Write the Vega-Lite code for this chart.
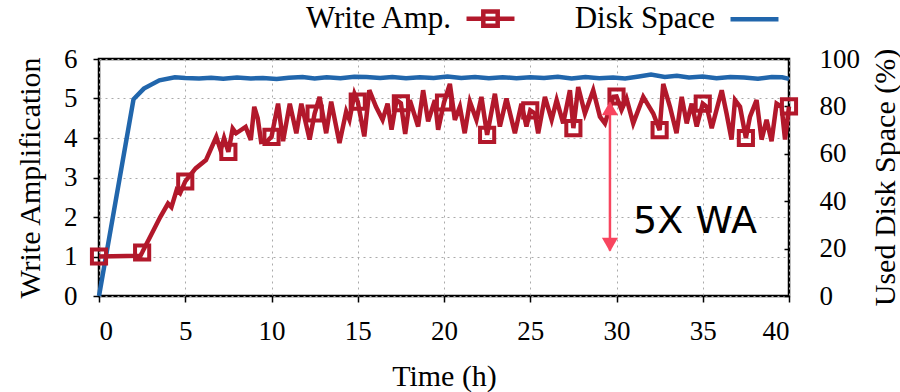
{
  "$schema": "https://vega.github.io/schema/vega-lite/v6.json",
  "width": 690,
  "height": 237,
  "autosize": {"type": "none"},
  "padding": {"left": 99, "top": 59, "right": 111, "bottom": 96},
  "background": "white",
  "config": {
    "view": {"stroke": "black", "strokeWidth": 2.5},
    "font": "Liberation Serif",
    "axis": {
      "labelFont": "Liberation Serif",
      "titleFont": "Liberation Serif",
      "labelFontSize": 27,
      "titleFontSize": 30,
      "titleFontWeight": "normal",
      "labelColor": "black",
      "titleColor": "black",
      "labelOverlap": false,
      "domain": false,
      "tickColor": "black",
      "tickWidth": 1.5,
      "tickSize": 6,
      "gridColor": "#aaaaaa",
      "gridDash": [2, 4],
      "gridWidth": 1
    }
  },
  "datasets": {
    "wa": [
      {"time": 0, "wa": 1.0}, {"time": 2.4, "wa": 1.02}, {"time": 2.5, "wa": 1.1}, {"time": 3.55, "wa": 2.0}, {"time": 4.0, "wa": 2.34},
      {"time": 4.2, "wa": 2.25}, {"time": 4.5, "wa": 2.68}, {"time": 4.7, "wa": 2.6}, {"time": 5.0, "wa": 2.9},
      {"time": 5.6, "wa": 3.23}, {"time": 6.2, "wa": 3.44}, {"time": 6.8, "wa": 4.03}, {"time": 7.05, "wa": 3.69},
      {"time": 7.25, "wa": 4.0}, {"time": 7.5, "wa": 3.65}, {"time": 7.75, "wa": 4.24}, {"time": 7.95, "wa": 4.12},
      {"time": 8.5, "wa": 4.28}, {"time": 8.8, "wa": 3.95}, {"time": 9.0, "wa": 4.79}, {"time": 9.2, "wa": 4.5},
      {"time": 9.4, "wa": 3.9}, {"time": 9.75, "wa": 3.92}, {"time": 10.0, "wa": 4.03}, {"time": 10.38, "wa": 4.87},
      {"time": 10.67, "wa": 3.92}, {"time": 11.06, "wa": 4.87}, {"time": 11.44, "wa": 4.12}, {"time": 11.73, "wa": 4.87},
      {"time": 12.21, "wa": 3.96}, {"time": 12.5, "wa": 4.62}, {"time": 12.79, "wa": 5.04}, {"time": 13.17, "wa": 4.12},
      {"time": 13.46, "wa": 4.92}, {"time": 13.94, "wa": 3.87}, {"time": 14.33, "wa": 4.67}, {"time": 14.52, "wa": 4.46},
      {"time": 14.81, "wa": 5.12}, {"time": 15.0, "wa": 4.92}, {"time": 15.38, "wa": 4.04}, {"time": 15.67, "wa": 5.21},
      {"time": 16.06, "wa": 4.79}, {"time": 16.44, "wa": 4.46}, {"time": 16.73, "wa": 4.87}, {"time": 16.96, "wa": 4.21},
      {"time": 17.25, "wa": 4.96}, {"time": 17.5, "wa": 4.88}, {"time": 17.75, "wa": 4.1}, {"time": 18.02, "wa": 4.96},
      {"time": 18.5, "wa": 4.29}, {"time": 18.79, "wa": 5.21}, {"time": 19.08, "wa": 4.42}, {"time": 19.47, "wa": 4.96},
      {"time": 19.66, "wa": 4.21}, {"time": 20.0, "wa": 4.9}, {"time": 20.34, "wa": 5.37}, {"time": 20.63, "wa": 4.46},
      {"time": 20.92, "wa": 4.79}, {"time": 21.2, "wa": 4.12}, {"time": 21.5, "wa": 4.92}, {"time": 21.88, "wa": 4.46},
      {"time": 22.17, "wa": 5.04}, {"time": 22.5, "wa": 4.08}, {"time": 22.95, "wa": 5.12}, {"time": 23.24, "wa": 4.29},
      {"time": 23.62, "wa": 5.0}, {"time": 24.11, "wa": 4.12}, {"time": 24.49, "wa": 4.87}, {"time": 24.78, "wa": 4.29},
      {"time": 25.0, "wa": 4.7}, {"time": 25.27, "wa": 4.62}, {"time": 25.46, "wa": 4.12}, {"time": 25.85, "wa": 5.04},
      {"time": 26.24, "wa": 4.46}, {"time": 26.53, "wa": 4.96}, {"time": 26.91, "wa": 4.37}, {"time": 27.3, "wa": 5.21},
      {"time": 27.5, "wa": 4.25}, {"time": 27.78, "wa": 5.29}, {"time": 28.17, "wa": 4.62}, {"time": 28.65, "wa": 5.21},
      {"time": 29.04, "wa": 4.54}, {"time": 29.33, "wa": 4.37}, {"time": 29.81, "wa": 5.04}, {"time": 30.0, "wa": 5.05},
      {"time": 30.29, "wa": 4.71}, {"time": 30.58, "wa": 5.0}, {"time": 30.97, "wa": 4.37}, {"time": 31.55, "wa": 5.04},
      {"time": 32.13, "wa": 4.62}, {"time": 32.5, "wa": 4.2}, {"time": 32.71, "wa": 5.37}, {"time": 33.1, "wa": 4.79},
      {"time": 33.48, "wa": 4.12}, {"time": 33.78, "wa": 5.04}, {"time": 34.07, "wa": 4.37}, {"time": 34.36, "wa": 4.87},
      {"time": 34.65, "wa": 4.29}, {"time": 35.0, "wa": 4.87}, {"time": 35.23, "wa": 4.79}, {"time": 35.52, "wa": 4.25},
      {"time": 36.1, "wa": 5.21}, {"time": 36.38, "wa": 4.62}, {"time": 36.67, "wa": 3.96}, {"time": 36.87, "wa": 4.96},
      {"time": 37.16, "wa": 4.79}, {"time": 37.5, "wa": 4.0}, {"time": 37.74, "wa": 4.54}, {"time": 38.12, "wa": 4.96},
      {"time": 38.41, "wa": 3.96}, {"time": 38.7, "wa": 4.46}, {"time": 38.99, "wa": 3.92}, {"time": 39.28, "wa": 4.87},
      {"time": 39.57, "wa": 4.79}, {"time": 39.77, "wa": 3.96}, {"time": 40.0, "wa": 4.8}
    ],
    "disk": [
      {"time": 0, "disk": 0}, {"time": 2.0, "disk": 83}, {"time": 2.6, "disk": 87.5}, {"time": 3.5, "disk": 91},
      {"time": 4.4, "disk": 92.3}, {"time": 5, "disk": 92.0}, {"time": 5.8, "disk": 91.8}, {"time": 6.5, "disk": 92.1},
      {"time": 7.2, "disk": 91.7}, {"time": 8, "disk": 92.2}, {"time": 8.8, "disk": 91.8}, {"time": 9.5, "disk": 92.0},
      {"time": 10.3, "disk": 91.6}, {"time": 11, "disk": 92.1}, {"time": 11.8, "disk": 92.4}, {"time": 12.5, "disk": 91.8},
      {"time": 13.2, "disk": 92.3}, {"time": 14, "disk": 91.9}, {"time": 14.8, "disk": 92.5}, {"time": 15.5, "disk": 92.4},
      {"time": 16.3, "disk": 92.0}, {"time": 17, "disk": 92.4}, {"time": 17.8, "disk": 91.9}, {"time": 18.6, "disk": 92.3},
      {"time": 19.4, "disk": 92.0}, {"time": 20.2, "disk": 92.6}, {"time": 21, "disk": 92.0}, {"time": 21.8, "disk": 92.4},
      {"time": 22.6, "disk": 91.9}, {"time": 23.4, "disk": 92.3}, {"time": 24.2, "disk": 91.9}, {"time": 25, "disk": 92.3},
      {"time": 25.8, "disk": 92.0}, {"time": 26.6, "disk": 92.5}, {"time": 27.4, "disk": 91.8}, {"time": 28.2, "disk": 92.4},
      {"time": 29, "disk": 91.9}, {"time": 29.8, "disk": 92.2}, {"time": 30.5, "disk": 91.8}, {"time": 31.3, "disk": 92.6},
      {"time": 32, "disk": 93.4}, {"time": 32.8, "disk": 92.4}, {"time": 33.5, "disk": 92.9}, {"time": 34.2, "disk": 92.2},
      {"time": 35, "disk": 92.6}, {"time": 35.8, "disk": 91.9}, {"time": 36.6, "disk": 92.4}, {"time": 37.4, "disk": 92.2},
      {"time": 38.2, "disk": 91.7}, {"time": 39, "disk": 92.4}, {"time": 39.6, "disk": 92.3}, {"time": 40, "disk": 91.6}
    ],
    "arrow": [{"time": 29.62, "wa": 1.15, "wa2": 4.9}],
    "heads": [{"time": 29.62, "wa": 4.75, "dir": "up"}, {"time": 29.62, "wa": 1.3, "dir": "down"}],
    "note": [{"time": 34.55, "wa": 1.87, "label": "5X WA"}]
  },
  "encoding": {
    "x": {
      "field": "time",
      "type": "quantitative",
      "scale": {"domain": [0, 40], "nice": false},
      "axis": {
        "title": "Time (h)",
        "values": [0, 5, 10, 15, 20, 25, 30, 35, 40],
        "grid": true,
        "labelPadding": 16,
        "titlePadding": 17
      }
    }
  },
  "layer": [
    {
      "data": {"name": "disk"},
      "mark": {"type": "line", "strokeWidth": 4.5, "interpolate": "linear"},
      "encoding": {
        "y": {
          "field": "disk",
          "type": "quantitative",
          "scale": {"domain": [0, 100], "nice": false},
          "axis": {
            "orient": "right",
            "title": "Used Disk Space (%)",
            "titleAngle": 270,
            "titleX": 96,
            "titleY": 118,
            "titleAlign": "center",
            "titleBaseline": "middle",
            "values": [0, 20, 40, 60, 80, 100],
            "grid": false,
            "tickSize": -5,
            "labelPadding": 35
          }
        },
        "color": {
          "datum": "Disk Space",
          "type": "nominal",
          "scale": {"domain": ["Write Amp.", "Disk Space"], "range": ["#b2182b", "#2166ac"]},
          "legend": {
            "title": null,
            "orient": "none",
            "direction": "horizontal",
            "legendX": 365,
            "legendY": -67,
            "labelFont": "Liberation Serif",
            "labelFontSize": 31,
            "labelColor": "black",
            "labelAlign": "right",
            "labelOffset": -66,
            "symbolSize": 2300,
            "symbolStrokeWidth": 4,
            "columnPadding": 50,
            "encode": {
              "symbols": {
                "update": {
                  "shape": {"signal": "datum.value === 'Write Amp.' ? 'M-1,0H1M-0.3,-0.3H0.3V0.3H-0.3Z' : 'M-1,0H1'"},
                  "fill": {"value": "transparent"},
                  "strokeWidth": {"value": 4.5}
                }
              }
            }
          }
        }
      }
    },
    {
      "encoding": {
        "y": {
          "field": "wa",
          "type": "quantitative",
          "scale": {"domain": [0, 6], "nice": false},
          "axis": {
            "orient": "left",
            "title": "Write Amplification",
            "values": [0, 1, 2, 3, 4, 5, 6],
            "grid": true,
            "labelPadding": 16,
            "titlePadding": 18
          }
        }
      },
      "layer": [
        {
          "data": {"name": "wa"},
          "mark": {"type": "line", "strokeWidth": 4.5},
          "encoding": {
            "color": {"datum": "Write Amp.", "type": "nominal"}
          }
        },
        {
          "data": {"name": "wa"},
          "transform": [{"filter": "datum.time % 2.5 === 0"}],
          "mark": {"type": "point", "shape": "square", "filled": false, "stroke": "#b2182b", "strokeWidth": 4, "size": 200, "opacity": 1}
        },
        {
          "data": {"name": "arrow"},
          "mark": {"type": "rule", "color": "#f8455f", "strokeWidth": 2.5},
          "encoding": {
            "y2": {"field": "wa2"}
          }
        },
        {
          "data": {"name": "heads"},
          "mark": {"type": "point", "filled": true, "color": "#f8455f", "size": 260, "opacity": 1},
          "encoding": {
            "shape": {
              "field": "dir",
              "type": "nominal",
              "scale": {"domain": ["up", "down"], "range": ["triangle-up", "triangle-down"]},
              "legend": null
            }
          }
        },
        {
          "data": {"name": "note"},
          "mark": {"type": "text", "font": "DejaVu Sans", "fontSize": 38, "color": "black", "align": "center", "baseline": "middle"},
          "encoding": {
            "text": {"field": "label"}
          }
        }
      ]
    }
  ],
  "resolve": {"scale": {"y": "independent"}}
}
